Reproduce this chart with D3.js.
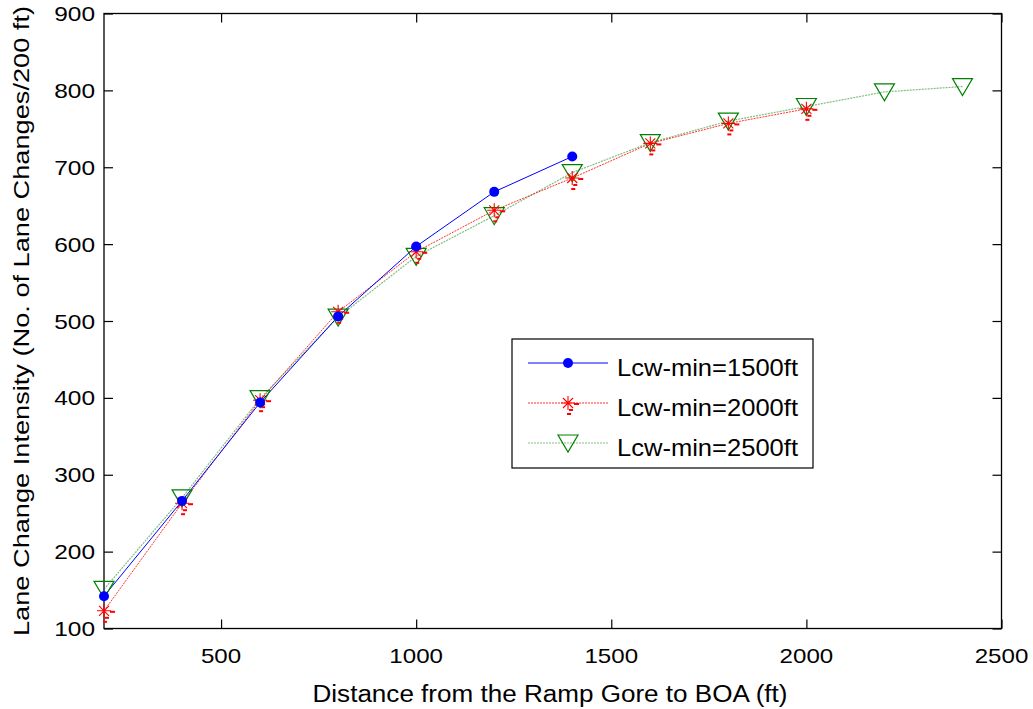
<!DOCTYPE html>
<html>
<head>
<meta charset="utf-8">
<script src="https://cdn.jsdelivr.net/npm/d3@7"></script>
<style>
  html, body { margin: 0; padding: 0; background: #fff; }
  svg { display: block; }
  text { font-family: "Liberation Sans", Arial, sans-serif; fill: #000; }
</style>
</head>
<body>
<svg id="chart" width="1033" height="709"></svg>
<script>
// ---- data ----
const distances1500 = [200, 400, 600, 800, 1000, 1200, 1400];
const values1500    = [142, 266, 394, 506, 597, 668, 714];
const distances2000 = [200, 400, 600, 800, 1000, 1200, 1400, 1600, 1800, 2000];
const values2000    = [123, 263, 397, 512, 590, 644, 686, 731, 757, 776];
const distances2500 = [200, 400, 600, 800, 1000, 1200, 1400, 1600, 1800, 2000, 2200, 2400];
const values2500    = [151, 270, 399, 505, 584, 637, 693, 732, 760, 779, 798, 805];
const seriesNames   = ["Lcw-min=1500ft", "Lcw-min=2000ft", "Lcw-min=2500ft"];
const xTicks = [500, 1000, 1500, 2000, 2500];
const yTicks = [100, 200, 300, 400, 500, 600, 700, 800, 900];
const xLabel = "Distance from the Ramp Gore to BOA (ft)";
const yLabel = "Lane Change Intensity (No. of Lane Changes/200 ft)";

// ---- layout ----
const L = 104, R = 1001.5, T = 13.5, B = 628.5;
const svg = d3.select("#chart");
const x = d3.scaleLinear().domain([200, 2500]).range([L, R]);
const y = d3.scaleLinear().domain([100, 900]).range([B, T]);

// box
svg.append("rect").attr("x", L).attr("y", T).attr("width", R - L).attr("height", B - T)
  .attr("fill", "none").attr("stroke", "#000").attr("stroke-width", 1.3);

// axes with inward ticks
const tickLen = 9;
const bottomAxis = d3.axisBottom(x).tickValues(xTicks).tickSizeInner(-tickLen).tickSizeOuter(0).tickFormat("");
const topAxis = d3.axisTop(x).tickValues(xTicks).tickSizeInner(-tickLen).tickSizeOuter(0).tickFormat("");
const leftAxis = d3.axisLeft(y).tickValues(yTicks).tickSizeInner(-tickLen).tickSizeOuter(0).tickFormat("");
const rightAxis = d3.axisRight(y).tickValues(yTicks).tickSizeInner(-tickLen).tickSizeOuter(0).tickFormat("");
[[bottomAxis, `translate(0,${B})`], [topAxis, `translate(0,${T})`],
 [leftAxis, `translate(${L},0)`], [rightAxis, `translate(${R},0)`]].forEach(([ax, tr]) => {
  const g = svg.append("g").attr("transform", tr).call(ax);
  g.select(".domain").remove();
  g.selectAll(".tick line").attr("stroke", "#000").attr("stroke-width", 1.2);
});

// tick labels
svg.append("g").selectAll("text").data(xTicks).join("text")
  .attr("x", d => x(d)).attr("y", 663).attr("text-anchor", "middle")
  .attr("font-size", 21)
  .attr("textLength", d => String(d).length * 13.4).attr("lengthAdjust", "spacingAndGlyphs")
  .text(d => d);
svg.append("g").selectAll("text").data(yTicks).join("text")
  .attr("x", 95).attr("y", d => y(d) + 7.5).attr("text-anchor", "end")
  .attr("font-size", 21)
  .attr("textLength", d => String(d).length * 13.6).attr("lengthAdjust", "spacingAndGlyphs")
  .text(d => d);

// axis labels
svg.append("text").attr("x", 550).attr("y", 702).attr("text-anchor", "middle")
  .attr("font-size", 23).attr("textLength", 475).attr("lengthAdjust", "spacingAndGlyphs")
  .text(xLabel);
svg.append("text").attr("transform", `translate(29,${(T + B) / 2}) rotate(-90)`)
  .attr("text-anchor", "middle")
  .attr("font-size", 22).attr("textLength", 630).attr("lengthAdjust", "spacingAndGlyphs")
  .text(yLabel);

// ---- series ----
const line = d3.line().x(d => x(d[0])).y(d => y(d[1]));
const s1500 = d3.zip(distances1500, values1500);
const s2000 = d3.zip(distances2000, values2000);
const s2500 = d3.zip(distances2500, values2500);

svg.append("path").datum(s2500).attr("d", line).attr("fill", "none")
  .attr("stroke", "#008000").attr("stroke-opacity", 0.5).attr("stroke-width", 1.2)
  .attr("stroke-dasharray", "2,1");
svg.append("path").datum(s2000).attr("d", line).attr("fill", "none")
  .attr("stroke", "#ff0000").attr("stroke-opacity", 0.8).attr("stroke-width", 1)
  .attr("stroke-dasharray", "2,1");
svg.append("path").datum(s1500).attr("d", line).attr("fill", "none")
  .attr("stroke", "#0000ff").attr("stroke-width", 1);

// marker drawers
function triangle(g, cx, cy) {
  g.append("path")
    .attr("d", `M${cx - 10},${cy - 8}L${cx + 10},${cy - 8}L${cx},${cy + 9}Z`)
    .attr("fill", "none").attr("stroke", "#008000").attr("stroke-width", 1.2);
}
function star(g, cx, cy) {
  const r = 7, d = 5;
  const p = `M${cx - r},${cy}L${cx + r},${cy}M${cx},${cy - r}L${cx},${cy + r}` +
            `M${cx - d},${cy - d}L${cx + d},${cy + d}M${cx - d},${cy + d}L${cx + d},${cy - d}`;
  g.append("path").attr("d", p).attr("stroke", "#ff0000").attr("stroke-width", 1.1).attr("fill", "none");
  g.append("rect").attr("x", cx + 6).attr("y", cy).attr("width", 5).attr("height", 2).attr("fill", "#ff0000");
  g.append("rect").attr("x", cx + 1).attr("y", cy + 6).attr("width", 4).attr("height", 2).attr("fill", "#ff0000");
  g.append("rect").attr("x", cx - 1).attr("y", cy + 10).attr("width", 4).attr("height", 2).attr("fill", "#ff0000");
}
function dot(g, cx, cy) {
  g.append("circle").attr("cx", cx).attr("cy", cy).attr("r", 5).attr("fill", "#0000ff");
}

const mk = svg.append("g");
s2500.forEach(d => triangle(mk, x(d[0]), y(d[1])));
s2000.forEach(d => star(mk, x(d[0]), y(d[1])));
s1500.forEach(d => dot(mk, x(d[0]), y(d[1])));

// ---- legend ----
const lg = svg.append("g");
lg.append("rect").attr("x", 512).attr("y", 339).attr("width", 301).attr("height", 129)
  .attr("fill", "#fff").attr("stroke", "#000").attr("stroke-width", 1.2);
const rowsY = [363, 403, 443];
const styles = [
  { stroke: "#0000ff", dash: null, op: 1 },
  { stroke: "#ff0000", dash: "2,1", op: 0.8 },
  { stroke: "#008000", dash: "2,1", op: 0.5 }
];
seriesNames.forEach((name, i) => {
  const ry = rowsY[i];
  const ln = lg.append("line").attr("x1", 528).attr("x2", 608).attr("y1", ry).attr("y2", ry)
    .attr("stroke", styles[i].stroke).attr("stroke-opacity", styles[i].op).attr("stroke-width", 1.1);
  if (styles[i].dash) ln.attr("stroke-dasharray", styles[i].dash);
  if (i === 0) dot(lg, 568, ry);
  if (i === 1) star(lg, 568, ry);
  if (i === 2) triangle(lg, 568, ry);
  lg.append("text").attr("x", 617).attr("y", ry + 13).attr("font-size", 24)
    .attr("textLength", 181).attr("lengthAdjust", "spacingAndGlyphs").text(name);
});
</script>
</body>
</html>
